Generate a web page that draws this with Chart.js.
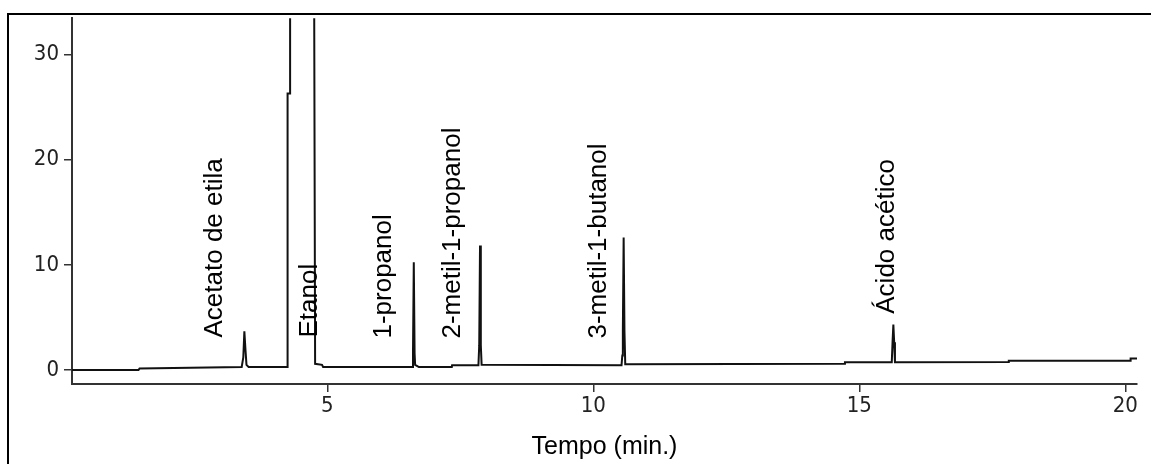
<!DOCTYPE html>
<html>
<head>
<meta charset="utf-8">
<script src="https://cdn.jsdelivr.net/npm/chart.js@4/dist/chart.umd.min.js"></script>
<style>
body { margin: 0; background: #fff; }
#wrap { width: 1151px; height: 464px; }
</style>
</head>
<body>
<div id="wrap"><canvas id="myChart" width="1151" height="464"></canvas></div>
<script>
// tempo (min) e sinal do cromatograma
let tempo = [0.2, 1.45, 1.47, 3.39, 3.42, 3.44, 3.46, 3.48, 3.52,
    4.245, 4.25, 4.255, 4.30, 4.30, 4.75, 4.77, 4.90, 4.92,
    6.60, 6.61, 6.625, 6.64, 6.65, 6.70, 6.72, 7.34, 7.345,
    7.84, 7.855, 7.87, 7.885, 7.90,
    10.53, 10.545, 10.555, 10.57, 10.585, 10.60,
    14.72, 14.73, 15.61, 15.625, 15.64, 15.655, 15.67,
    17.80, 17.81, 20.09, 20.10, 20.22]
let sinal = [0.0, 0.0, 0.15, 0.3, 1.2, 3.7, 2.0, 0.5, 0.3,
    0.3, 4.0, 26.3, 26.3, 40, 40, 0.6, 0.5, 0.3,
    0.3, 1.6, 10.24, 1.6, 0.5, 0.35, 0.3, 0.3, 0.47,
    0.47, 2.35, 11.84, 2.35, 0.5,
    0.47, 1.4, 3.76, 12.6, 3.76, 0.56,
    0.6, 0.75, 0.75, 2.66, 4.32, 2.66, 0.75,
    0.78, 0.9, 0.9, 1.1, 1.1]

let picos = ["Acetato de etila", "Etanol", "1-propanol", "2-metil-1-propanol", "3-metil-1-butanol", "Ácido acético"]
let picosTempo = [3.02, 4.80, 6.19, 7.50, 10.23, 15.66]
let picosNivel = [3.1, 3.1, 3.0, 3.0, 3.0, 5.36]

let xTicks = [5, 10, 15, 20]
let yTicks = [0, 10, 20, 30]

let pontos = tempo.map((t, i) => ({x: t, y: sinal[i]}))

let rotulos = {
    id: 'rotulos',
    beforeDraw(chart) {
        let c = chart.ctx
        c.save()
        c.strokeStyle = '#000'
        c.lineWidth = 2
        c.beginPath()
        c.moveTo(8, 464)
        c.lineTo(8, 14)
        c.lineTo(1151, 14)
        c.stroke()
        c.restore()
    },
    afterDatasetsDraw(chart) {
        let c = chart.ctx
        let sx = chart.scales.x
        let sy = chart.scales.y
        c.save()
        c.fillStyle = '#000'
        c.font = '26px "Liberation Sans", Arial, sans-serif'
        c.textAlign = 'left'
        c.textBaseline = 'alphabetic'
        picos.forEach((nome, i) => {
            c.save()
            c.translate(sx.getPixelForValue(picosTempo[i]), sy.getPixelForValue(picosNivel[i]))
            c.rotate(-Math.PI / 2)
            c.fillText(nome, 0, 0)
            c.restore()
        })
        c.restore()
    }
}

let fonteTick = {family: '"DejaVu Sans Condensed", "Liberation Sans Narrow", "Arial Narrow", sans-serif', size: 22}

let ctx = document.getElementById('myChart')
let grafico = new Chart(ctx, {
    type: 'line',
    data: {
        datasets: [{
            data: pontos,
            borderColor: '#111',
            borderWidth: 2,
            pointRadius: 0,
            tension: 0,
            fill: false,
        }],
    },
    options: {
        responsive: false,
        animation: false,
        layout: {padding: {left: 0, top: 14, right: 14, bottom: 0}},
        plugins: {legend: {display: false}, tooltip: {enabled: false}},
        scales: {
            x: {
                type: 'linear',
                min: 0.2,
                max: 20.22,
                afterBuildTicks: s => { s.ticks = xTicks.map(v => ({value: v})) },
                afterFit: s => { s.height = 80 },
                grid: {drawOnChartArea: false, drawTicks: true, tickLength: 8, color: '#333', lineWidth: 1.5},
                border: {display: true, color: '#333', width: 2},
                ticks: {color: '#222', font: fonteTick, padding: 1, maxRotation: 0},
                title: {display: true, text: 'Tempo (min.)', color: '#000',
                    font: {family: '"Liberation Sans", Arial, sans-serif', size: 25, lineHeight: 1.2},
                    padding: {top: 0, bottom: 2}},
            },
            y: {
                type: 'linear',
                min: -1.32,
                max: 33.45,
                afterBuildTicks: s => { s.ticks = yTicks.map(v => ({value: v})) },
                afterFit: s => { s.width = 72 },
                grid: {drawOnChartArea: false, drawTicks: true, tickLength: 8, color: '#333', lineWidth: 1.5},
                border: {display: true, color: '#333', width: 2},
                ticks: {color: '#222', font: fonteTick, padding: 5},
            },
        },
    },
    plugins: [rotulos],
})
</script>
</body>
</html>
